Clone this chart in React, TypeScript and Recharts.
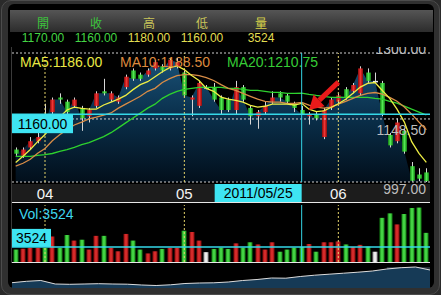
import React from 'react';
import { ComposedChart, AreaChart, Area, Bar, Line, XAxis, YAxis, ReferenceLine, ReferenceArea } from 'recharts';

const FONT = '"Liberation Sans", Arial, Helvetica, sans-serif';
const CJK = '"Noto Sans CJK TC", "Noto Sans CJK SC", sans-serif';

const dates = [
  '2011/03/28', '2011/03/29', '2011/03/30', '2011/03/31',
  '2011/04/01', '2011/04/06', '2011/04/07', '2011/04/08', '2011/04/11', '2011/04/12',
  '2011/04/13', '2011/04/14', '2011/04/15', '2011/04/18', '2011/04/19', '2011/04/20',
  '2011/04/21', '2011/04/22', '2011/04/25', '2011/04/26', '2011/04/27', '2011/04/28', '2011/04/29',
  '2011/05/03', '2011/05/04', '2011/05/05', '2011/05/06', '2011/05/09', '2011/05/10', '2011/05/11',
  '2011/05/12', '2011/05/13', '2011/05/16', '2011/05/17', '2011/05/18', '2011/05/19', '2011/05/20',
  '2011/05/23', '2011/05/24', '2011/05/25', '2011/05/26', '2011/05/27', '2011/05/30', '2011/05/31',
  '2011/06/01', '2011/06/02', '2011/06/03', '2011/06/07', '2011/06/08', '2011/06/09', '2011/06/10',
  '2011/06/13', '2011/06/14', '2011/06/15', '2011/06/16', '2011/06/17', '2011/06/20',
];

const opens = [
  1075, 1060, 1080, 1095, 1160, 1165, 1200, 1190, 1180, 1175,
  1155, 1180, 1215, 1195, 1190, 1225, 1265, 1255, 1255, 1270,
  1275, 1270, 1275, 1260, 1195, 1180, 1225, 1225, 1200, 1195,
  1170, 1225, 1175, 1155, 1165, 1190, 1210, 1205, 1185, 1170,
  1155, 1160, 1105, 1175, 1190, 1220, 1215, 1210, 1260, 1240,
  1235, 1110, 1095, 1120, 1035, 1015, 1020,
];
const highs = [
  1080, 1080, 1105, 1115, 1185, 1200, 1210, 1195, 1200, 1180,
  1175, 1215, 1245, 1215, 1205, 1255, 1270, 1260, 1270, 1290,
  1280, 1295, 1295, 1265, 1205, 1240, 1230, 1235, 1205, 1200,
  1240, 1230, 1180, 1170, 1190, 1215, 1215, 1210, 1190, 1180,
  1165, 1165, 1175, 1200, 1210, 1225, 1235, 1275, 1270, 1260,
  1240, 1115, 1150, 1125, 1045, 1030, 1030,
];
const lows = [
  1060, 1055, 1075, 1090, 1125, 1160, 1185, 1160, 1175, 1120,
  1140, 1175, 1205, 1190, 1185, 1220, 1240, 1240, 1250, 1265,
  1260, 1265, 1270, 1200, 1155, 1175, 1220, 1190, 1160, 1165,
  1160, 1190, 1135, 1125, 1160, 1185, 1190, 1185, 1165, 1160,
  1135, 1145, 1100, 1170, 1185, 1195, 1210, 1205, 1235, 1235,
  1155, 1080, 1090, 1065, 998, 999, 997,
];
const closes = [
  1065, 1075, 1095, 1105, 1135, 1195, 1195, 1165, 1195, 1150,
  1170, 1210, 1210, 1210, 1200, 1250, 1245, 1245, 1265, 1285,
  1265, 1290, 1285, 1205, 1200, 1235, 1225, 1195, 1170, 1170,
  1225, 1195, 1155, 1165, 1180, 1200, 1200, 1190, 1175, 1160,
  1160, 1150, 1170, 1195, 1205, 1200, 1230, 1270, 1240, 1240,
  1160, 1085, 1140, 1070, 1000, 1005, 999,
];
const volumes = [
  2900, 3100, 3300, 3300, 3300, 5950, 3300, 6300, 5000, 5200,
  2900, 6100, 6100, 3300, 2500, 6550, 5000, 2900, 2000, 2500,
  3050, 3300, 3300, 7300, 7000, 5000, 2300, 3050, 3350, 3050,
  4350, 3350, 4600, 4100, 2900, 4600, 2400, 2900, 3350, 3524,
  4200, 2400, 4600, 4600, 4800, 4100, 3500, 4000, 3600, 2400,
  10300, 11350, 8770, 11200, 12600, 12700, 6800,
];
const ma5 = [
  1044, 1059, 1075, 1094, 1111, 1132, 1153, 1170, 1177, 1174,
  1172, 1172, 1182, 1189, 1196, 1205, 1219, 1231, 1238, 1250,
  1262, 1272, 1276, 1267, 1253, 1241, 1222, 1215, 1201, 1196,
  1193, 1189, 1181, 1177, 1179, 1184, 1184, 1184, 1182, 1186,
  1172, 1166, 1168, 1176, 1185, 1196, 1210, 1225, 1234, 1236,
  1217, 1198, 1172, 1141, 1094, 1066, 1044,
];
const ma10 = [
  1035, 1042, 1051.5, 1066, 1077.5, 1096, 1110.5, 1122.5, 1134, 1141,
  1148.5, 1153, 1158, 1163, 1174.5, 1184, 1193.5, 1203, 1215, 1222,
  1236, 1245.5, 1252.5, 1255, 1255, 1252.5, 1248, 1241, 1231, 1222,
  1217, 1210, 1203, 1196, 1191, 1189, 1189, 1186, 1186, 1188.5,
  1181.5, 1177, 1174.5, 1177, 1184, 1191, 1198, 1205, 1210, 1212,
  1208, 1200.5, 1191, 1177, 1160, 1141, 1122.5,
];
const ma20 = [
  1058.5, 1058.5, 1058.5, 1061, 1063, 1065.5, 1070.5, 1075, 1080, 1087,
  1091.5, 1099, 1106, 1115.5, 1127, 1139, 1151, 1162.5, 1174.5, 1184,
  1198, 1207.5, 1215, 1219.5, 1222, 1224.5, 1224.5, 1224.5, 1224.5, 1222,
  1222, 1219.5, 1217, 1217, 1215, 1212.5, 1212.5, 1210, 1210, 1210.75,
  1207.5, 1205, 1203, 1200.5, 1200.5, 1200.5, 1200.5, 1200.5, 1200.5, 1198,
  1196, 1191, 1186.5, 1179.5, 1172, 1165, 1158,
];

const monthTicks = ['2011/04/01', '2011/05/03', '2011/06/01'];
const monthLabels = ['04', '05', '06'];
const selectedDate = '2011/05/25';
const priceAxisLabels = [1300, 1148.5, 997];
const PRICE_MAX = 1307;
const PRICE_MIN = 997;
const VOL_MAX = 13300;
const arrowFrom = { date: '2011/06/01', price: 1237 };
const arrowTo = { date: '2011/05/26', price: 1170 };

const overview = [
  5.3, 6.7, 7.5, 4, 3.7, 4, 4.3, 4, 3.8, 3,
  2.5, 3.2, 4.5, 5, 5.2, 6, 7.5, 8.5, 10, 9.8,
  11.5, 12.8, 13.8, 14.8, 15.8, 17, 19, 20.3, 21, 18,
];
const overviewWindow = [26, 29];

const priceData = dates.map((date, i) => ({
  date,
  open: opens[i],
  high: highs[i],
  low: lows[i],
  close: closes[i],
  vol: volumes[i],
  ma5: ma5[i],
  ma10: ma10[i],
  ma20: ma20[i],
}));
const overviewData = overview.map((v, i) => ({ i, v }));
const SEL = dates.indexOf(selectedDate);
const sel = priceData[SEL];

const kindOf = (d: any) => (d.close > d.open ? 'up' : d.close < d.open ? 'down' : 'flat');

const renderCandle = (p: any) => {
  const { x, y, width, height, payload } = p;
  if (!payload) return <g />;
  const top = Math.min(y, y + height);
  const h = Math.abs(height);
  const span = payload.high - payload.low;
  const k = span > 0 ? h / span : 0;
  const py = (v: number) => top + (payload.high - v) * k;
  const cx = Math.round(x + width / 2) + 0.5;
  const bt = py(Math.max(payload.open, payload.close));
  const bb = py(Math.min(payload.open, payload.close));
  const kind = kindOf(payload);
  const fill = kind === 'up' ? 'url(#pRed)' : kind === 'down' ? 'url(#pGreen)' : '#e8e8e8';
  return (
    <g>
      <line x1={cx} x2={cx} y1={top} y2={top + h} stroke="#d6d6d6" strokeWidth={1} />
      <rect x={cx - 2.5} y={bt} width={5} height={Math.max(1.5, bb - bt)} fill={fill} />
    </g>
  );
};

const renderVol = (p: any) => {
  const { x, y, width, height, payload } = p;
  if (!payload) return <g />;
  const kind = kindOf(payload);
  const fill = kind === 'up' ? 'url(#vRed)' : kind === 'down' ? 'url(#vGreen)' : 'url(#vWhite)';
  const cx = Math.round(x + width / 2);
  return <rect x={cx - 2.5} y={y} width={5} height={Math.max(0, height)} fill={fill} />;
};

const renderArrow = (p: any) => {
  const { x1, y1, x2, y2 } = p;
  if ([x1, y1, x2, y2].some((v) => typeof v !== 'number' || isNaN(v))) return <g />;
  const dx = x2 - x1;
  const dy = y2 - y1;
  const len = Math.hypot(dx, dy) || 1;
  const ux = dx / len;
  const uy = dy / len;
  const hl = 14;
  const hw = 8;
  const bx = x2 - ux * hl;
  const by = y2 - uy * hl;
  const nx = -uy;
  const ny = ux;
  return (
    <g>
      <line x1={x1} y1={y1} x2={bx} y2={by} stroke="#e81a1a" strokeWidth={5} />
      <polygon points={`${x2},${y2} ${bx + nx * hw},${by + ny * hw} ${bx - nx * hw},${by - ny * hw}`} fill="#e81a1a" />
    </g>
  );
};

const rightLabel = (txt: string, dy: number) => (p: any) => {
  const vb = p.viewBox || {};
  return (
    <text x={vb.x + vb.width - 4} y={vb.y + dy} textAnchor="end" fill="#bdbdbd" fontSize={14} fontFamily={FONT}>
      {txt}
    </text>
  );
};

const monthLabel = (txt: string) => (p: any) => {
  const vb = p.viewBox || {};
  return (
    <text x={vb.x} y={vb.y + vb.height + 17} textAnchor="middle" fill="#f4f4f4" fontSize={15} fontFamily={FONT}>
      {txt}
    </text>
  );
};

const dateTag = (p: any) => {
  const vb = p.viewBox || {};
  const bx = vb.x - 87;
  const by = vb.y + vb.height + 2;
  return (
    <g>
      <rect x={bx} y={by} width={87} height={18} fill="#3ee4f2" />
      <text x={bx + 43.5} y={by + 14} textAnchor="middle" fill="#000" fontSize={14} fontFamily={FONT}>
        {selectedDate}
      </text>
    </g>
  );
};

const priceTag = (p: any) => {
  const vb = p.viewBox || {};
  return (
    <g>
      <rect x={vb.x} y={vb.y} width={61} height={19} fill="#3ee4f2" />
      <text x={vb.x + 30.5} y={vb.y + 15} textAnchor="middle" fill="#000" fontSize={14} fontFamily={FONT}>
        {sel.close.toFixed(2)}
      </text>
    </g>
  );
};

const volTag = (p: any) => {
  const vb = p.viewBox || {};
  return (
    <g>
      <rect x={vb.x} y={vb.y - 18} width={39} height={18} fill="#3ee4f2" />
      <text x={vb.x + 19.5} y={vb.y - 4} textAnchor="middle" fill="#000" fontSize={14} fontFamily={FONT}>
        {String(sel.vol)}
      </text>
    </g>
  );
};

const hGrad = (id: string, edge: string, mid: string) => (
  <linearGradient id={id} x1="0" y1="0" x2="1" y2="0">
    <stop offset="0%" stopColor={edge} />
    <stop offset="50%" stopColor={mid} />
    <stop offset="100%" stopColor={edge} />
  </linearGradient>
);

const abs = (left: number, top: number, extra: any = {}) => ({ position: 'absolute' as const, left, top, ...extra });

export default function App() {
  const header = [
    { label: '開', value: sel.open.toFixed(2), cx: 43, lc: '#3cc43c', vc: '#44d444' },
    { label: '收', value: sel.close.toFixed(2), cx: 96, lc: '#3cc43c', vc: '#44d444' },
    { label: '高', value: sel.high.toFixed(2), cx: 149, lc: '#c9c55a', vc: '#e2de52' },
    { label: '低', value: sel.low.toFixed(2), cx: 202, lc: '#c9c55a', vc: '#e2de52' },
    { label: '量', value: String(sel.vol), cx: 261, lc: '#d8d44a', vc: '#e2de52' },
  ];
  return (
    <div style={{ position: 'relative', width: 441, height: 295, background: '#2a2a2a', overflow: 'hidden', fontFamily: FONT }}>
      <style>{`html,body{margin:0;padding:0;background:#000;}`}</style>
      <div style={abs(1, 0, { width: 437, height: 293, borderRadius: 10, border: '1px solid #4c4c4c', background: '#303030' })} />
      <div style={abs(8, 4, { width: 426, height: 284, background: '#000', borderRadius: 6 })} />
      <div style={abs(10, 10, { width: 423, height: 22, background: 'linear-gradient(#555555, #2c2c2c)' })} />
      {header.map((h) => (
        <React.Fragment key={h.label}>
          <div style={abs(h.cx - 30, 15, { width: 60, textAlign: 'center', fontSize: 12, lineHeight: '16px', color: h.lc, fontFamily: CJK })}>
            {h.label}
          </div>
          <div style={abs(h.cx - 35, 31, { width: 70, textAlign: 'center', fontSize: 12, lineHeight: '14px', color: h.vc })}>
            {h.value}
          </div>
        </React.Fragment>
      ))}

      <div style={abs(12, 184, { width: 418, height: 18, background: '#1c1c1c' })} />
      <div style={abs(11, 47, { width: 1, height: 216, background: '#3a3a3a' })} />

      <div style={abs(0, 47)}>
        <ComposedChart width={441} height={156} data={priceData} margin={{ top: 6, right: 11, bottom: 21, left: 12 }}>
          <defs>
            <linearGradient id="areaGrad" x1="0" y1="0" x2="0" y2="1">
              <stop offset="0%" stopColor="#2a86c4" />
              <stop offset="45%" stopColor="#11507f" />
              <stop offset="100%" stopColor="#03192d" />
            </linearGradient>
            {hGrad('pRed', '#8a0a0a', '#f03434')}
            {hGrad('pGreen', '#127c12', '#52ea52')}
          </defs>
          <XAxis dataKey="date" hide />
          <YAxis hide domain={[PRICE_MIN, PRICE_MAX]} allowDataOverflow />
          <Area type="linear" dataKey="close" stroke="none" fill="url(#areaGrad)" baseValue="dataMin" isAnimationActive={false} />
          <ReferenceLine y={PRICE_MAX} stroke="#d0d0d0" strokeDasharray="2 2" label={rightLabel(priceAxisLabels[0].toFixed(2), 1)} />
          <ReferenceLine y={priceAxisLabels[1]} stroke="#d0d0d0" strokeDasharray="2 2" label={rightLabel(priceAxisLabels[1].toFixed(2), 16)} />
          <ReferenceLine y={priceAxisLabels[2]} stroke="#d0d0d0" strokeDasharray="2 2" label={rightLabel(priceAxisLabels[2].toFixed(2), 12)} />
          {monthTicks.map((m, i) => (
            <ReferenceLine key={m} x={m} stroke="#e2d26a" strokeDasharray="2 2" label={monthLabel(monthLabels[i])} />
          ))}
          <Bar dataKey={(d: any) => [d.low, d.high]} barSize={5} shape={renderCandle} isAnimationActive={false} />
          <Line type="linear" dataKey="ma20" stroke="#2ed22e" strokeWidth={1.3} dot={false} isAnimationActive={false} />
          <Line type="linear" dataKey="ma10" stroke="#d88c46" strokeWidth={1.3} dot={false} isAnimationActive={false} />
          <Line type="linear" dataKey="ma5" stroke="#eeee44" strokeWidth={1.3} dot={false} isAnimationActive={false} />
          <ReferenceLine x={selectedDate} stroke="#34d4e4" strokeWidth={1} label={dateTag} />
          <ReferenceLine y={sel.close} stroke="#34d8e8" strokeWidth={1.5} label={priceTag} />
          <ReferenceLine
            segment={[{ x: arrowFrom.date, y: arrowFrom.price }, { x: arrowTo.date, y: arrowTo.price }]}
            shape={renderArrow}
            ifOverflow="visible"
          />
        </ComposedChart>
      </div>

      <div style={abs(20, 54, { fontSize: 14, lineHeight: '16px', color: '#e8e844', whiteSpace: 'nowrap' })}>MA5:{sel.ma5.toFixed(2)}</div>
      <div style={abs(120, 54, { fontSize: 14, lineHeight: '16px', color: '#dc8a3e', whiteSpace: 'nowrap' })}>MA10:{sel.ma10.toFixed(2)}</div>
      <div style={abs(227, 54, { fontSize: 14, lineHeight: '16px', color: '#36cc36', whiteSpace: 'nowrap' })}>MA20:{sel.ma20.toFixed(2)}</div>

      <div style={abs(12, 202, { width: 418, height: 1, background: '#e6e6e6' })} />
      <div style={abs(0, 203)}>
        <ComposedChart width={441} height={60} data={priceData} margin={{ top: 2, right: 11, bottom: 1, left: 12 }}>
          <defs>
            {hGrad('vRed', '#8a0c0c', '#e83232')}
            {hGrad('vGreen', '#138413', '#50e650')}
            {hGrad('vWhite', '#9a9a9a', '#ffffff')}
          </defs>
          <XAxis dataKey="date" hide />
          <YAxis hide domain={[0, VOL_MAX]} allowDataOverflow />
          <Bar dataKey="vol" barSize={5} shape={renderVol} isAnimationActive={false} />
          {monthTicks.map((m) => (
            <ReferenceLine key={m} x={m} stroke="#e2d26a" strokeDasharray="2 2" />
          ))}
          <ReferenceLine x={selectedDate} stroke="#34d4e4" strokeWidth={1} />
          <ReferenceLine y={sel.vol} stroke="#34d8e8" strokeWidth={1.5} label={volTag} />
        </ComposedChart>
      </div>
      <div style={abs(19, 206, { fontSize: 14, lineHeight: '16px', color: '#3ed6ee', whiteSpace: 'nowrap' })}>Vol:{sel.vol}</div>
      <div style={abs(12, 262, { width: 418, height: 1, background: '#e6e6e6' })} />

      <div style={abs(0, 262)}>
        <AreaChart width={441} height={26} data={overviewData} margin={{ top: 1, right: 11, bottom: 0, left: 12 }}>
          <XAxis dataKey="i" type="number" domain={[0, overview.length - 1]} hide />
          <YAxis hide domain={[0, 25]} allowDataOverflow />
          <ReferenceArea x1={overviewWindow[0]} x2={overviewWindow[1]} y1={3} y2={21} fill="#6e8aa0" fillOpacity={0.35} stroke="none" />
          <Area type="linear" dataKey="v" stroke="#dcdcdc" strokeWidth={1} fill="#163a56" fillOpacity={1} baseValue="dataMin" isAnimationActive={false} />
        </AreaChart>
      </div>
    </div>
  );
}
